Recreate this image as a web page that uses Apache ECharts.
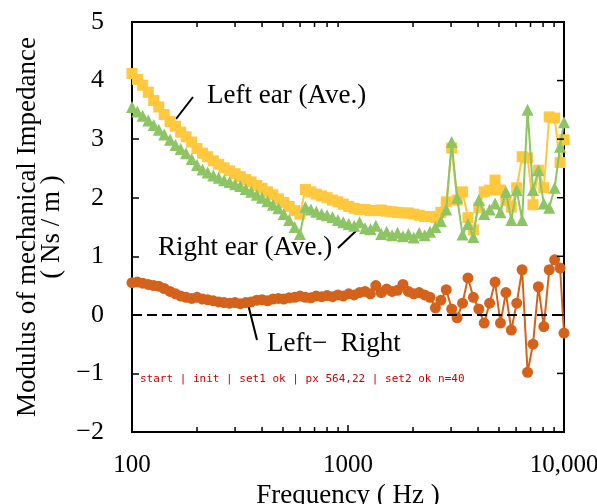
<!DOCTYPE html>
<html>
<head>
<meta charset="utf-8">
<title>Modulus of mechanical impedance</title>
<script src="https://cdn.jsdelivr.net/npm/echarts@6/dist/echarts.min.js"></script>
<style>
  html, body { margin: 0; padding: 0; background: #fff; overflow: hidden; }
  #chart { width: 597px; height: 504px; }
  #dbg { position: absolute; left: 140px; top: 372px; font: 11px monospace; color: #c00; width: 420px; }
</style>
</head>
<body>
<div id="chart"></div>
<div id="dbg">start</div>
<script>
// Frequencies (Hz), about 1/12 octave apart
const freqs = [
  100, 106, 112, 119, 126, 133, 141, 150, 159, 168, 178, 189, 200, 212, 224, 238,
  252, 267, 283, 300, 317, 336, 356, 378, 400, 424, 449, 476, 504, 534, 566, 599,
  635, 673, 713, 755, 800, 848, 898, 951, 1008, 1068, 1131, 1199, 1270, 1345, 1425, 1510,
  1600, 1695, 1796, 1903, 2016, 2136, 2263, 2397, 2540, 2691, 2851, 3020, 3200, 3390,
  3592, 3805, 4032, 4271, 4525, 4795, 5080, 5382, 5702, 6041, 6400, 6781, 7184, 7611,
  8064, 8543, 9051, 9589, 10000
];

// Left ear (Ave.)
const leftEar = [
  4.12, 4.02, 3.92, 3.80, 3.66, 3.55, 3.42, 3.30, 3.22, 3.12, 3.04, 2.95, 2.84, 2.76, 2.70, 2.63,
  2.57, 2.51, 2.46, 2.41, 2.36, 2.31, 2.27, 2.21, 2.16, 2.10, 2.05, 1.98, 1.92, 1.85, 1.78, 1.72,
  2.14, 2.10, 2.06, 2.03, 2.00, 1.96, 1.93, 1.89, 1.85, 1.82, 1.80, 1.80, 1.78, 1.78, 1.79, 1.77,
  1.76, 1.75, 1.74, 1.74, 1.72, 1.70, 1.68, 1.68, 1.66, 1.75, 1.93, 2.85, 1.96, 2.10,
  1.66, 1.45, 1.83, 2.10, 2.13, 2.30, 2.13, 1.95, 1.84, 2.17, 2.70, 2.68, 1.88, 2.47,
  2.17, 3.38, 3.36, 2.60, 2.99
];

// Right ear (Ave.)
const rightEar = [
  3.55, 3.47, 3.40, 3.32, 3.24, 3.16, 3.08, 2.99, 2.90, 2.83, 2.76, 2.66, 2.56, 2.48, 2.43, 2.38,
  2.34, 2.30, 2.27, 2.23, 2.20, 2.15, 2.10, 2.05, 2.00, 1.94, 1.88, 1.82, 1.72, 1.62, 1.50, 1.38,
  1.84, 1.80, 1.76, 1.72, 1.70, 1.67, 1.62, 1.58, 1.55, 1.52, 1.58, 1.48, 1.46, 1.52, 1.38, 1.42,
  1.36, 1.40, 1.34, 1.38, 1.32, 1.40, 1.36, 1.42, 1.50, 1.60, 1.80, 2.95, 2.00, 1.37,
  1.55, 1.33, 1.96, 1.72, 1.80, 1.90, 1.75, 2.10, 1.62, 2.13, 1.62, 3.50, 2.13, 2.47,
  1.90, 1.83, 2.17, 2.87, 3.29
];

// Left - Right
const leftMinusRight = [
  0.55, 0.56, 0.54, 0.52, 0.50, 0.49, 0.45, 0.40, 0.36, 0.32, 0.30, 0.28, 0.30, 0.27, 0.26, 0.24,
  0.22, 0.21, 0.20, 0.21, 0.19, 0.21, 0.22, 0.25, 0.26, 0.24, 0.27, 0.28, 0.27, 0.29, 0.30, 0.32,
  0.30, 0.29, 0.32, 0.31, 0.33, 0.31, 0.34, 0.32, 0.36, 0.34, 0.38, 0.40, 0.36, 0.50, 0.38, 0.44,
  0.40, 0.42, 0.52, 0.40, 0.36, 0.38, 0.34, 0.30, 0.12, 0.25, 0.43, 0.10, -0.05, 0.20,
  0.63, 0.30, 0.10, -0.14, 0.20, 0.56, -0.14, 0.38, -0.26, 0.20, 0.77, -0.98, -0.50, 0.48,
  -0.20, 0.77, 0.94, 0.80, -0.31
];

const minorTicks = [200, 300, 400, 500, 600, 700, 800, 900, 2000, 3000, 4000, 5000, 6000, 7000, 8000, 9000];
const yTicks = [-2, -1, 0, 1, 2, 3, 4, 5];

const xMin = 100, xMax = 10000;
const yMin = -2, yMax = 5;
const serif = 'Liberation Serif, Times New Roman, serif';
const dbg = document.getElementById('dbg');
const log = s => { dbg.textContent += ' | ' + s; };

const chart = echarts.init(document.getElementById('chart'));
log('init');

function pairs(vals) {
  return freqs.map((f, i) => [f, vals[i]]);
}

const axisLine = { show: true, onZero: false, lineStyle: { color: '#000', width: 2 } };
const axisTick = { show: true, inside: true, length: 7, lineStyle: { color: '#000', width: 1.5 } };

const notes = [
  { type: 'text', left: 207, top: 82, style: { text: 'Left ear (Ave.)', font: '27px ' + serif, fill: '#000' } },
  { type: 'line', shape: { x1: 176, y1: 119, x2: 193, y2: 97 }, style: { stroke: '#000', lineWidth: 2 } },
  { type: 'text', left: 158, top: 234, style: { text: 'Right ear (Ave.)', font: '27px ' + serif, fill: '#000' } },
  { type: 'line', shape: { x1: 338, y1: 248, x2: 357, y2: 230 }, style: { stroke: '#000', lineWidth: 2 } },
  { type: 'text', left: 267, top: 330, style: { text: 'Left\u2212  Right', font: '27px ' + serif, fill: '#000' } },
  { type: 'line', shape: { x1: 247, y1: 300, x2: 257, y2: 340 }, style: { stroke: '#000', lineWidth: 2 } }
];

try {
  chart.setOption({
    animation: false,
    grid: {
      left: 132, right: 33, top: 22, bottom: 72, outerBoundsMode: 'none',
      show: true, borderColor: '#000', borderWidth: 2, backgroundColor: 'transparent'
    },
    xAxis: {
      type: 'log', logBase: 10, min: xMin, max: xMax,
      name: 'Frequency ( Hz )', nameLocation: 'middle', nameGap: 48,
      nameTextStyle: { color: '#000', fontFamily: serif, fontSize: 27 },
      axisLine, axisTick,
      splitLine: { show: false },
      axisLabel: {
        color: '#000', fontFamily: serif, fontSize: 25, margin: 21,
        formatter: v => (v >= 10000 ? '10,000' : String(v))
      }
    },
    yAxis: {
      type: 'value', min: yMin, max: yMax, interval: 1,
      name: 'Modulus of mechanical Impedance\n( Ns / m )',
      nameLocation: 'middle', nameGap: 62,
      nameTextStyle: { color: '#000', fontFamily: serif, fontSize: 27, lineHeight: 24 },
      axisLine, axisTick,
      splitLine: { show: false },
      axisLabel: {
        color: '#000', fontFamily: serif, fontSize: 26, margin: 28,
        formatter: v => (v < 0 ? '\u2212' + Math.abs(v) : String(v))
      }
    },
    series: [
      {
        name: 'Left ear (Ave.)', type: 'line', data: pairs(leftEar),
        symbol: 'rect', symbolSize: 11, showAllSymbol: true,
        lineStyle: { color: '#FFC83D', width: 2 }, itemStyle: { color: '#FFC83D' },
        clip: false, z: 2
      },
      {
        name: 'Right ear (Ave.)', type: 'line', data: pairs(rightEar),
        symbol: 'triangle', symbolSize: 12, showAllSymbol: true,
        lineStyle: { color: '#8DC565', width: 2 }, itemStyle: { color: '#8DC565' },
        clip: false, z: 3
      },
      {
        name: 'Left - Right', type: 'line', data: pairs(leftMinusRight),
        symbol: 'circle', symbolSize: 11, showAllSymbol: true,
        lineStyle: { color: '#D4621B', width: 2 }, itemStyle: { color: '#D4621B' },
        clip: false, z: 4,
        markLine: {
          silent: true, symbol: 'none', label: { show: false },
          lineStyle: { color: '#000', type: [10, 5], width: 2 },
          data: [{ yAxis: 0 }]
        }
      }
    ],
    graphic: notes
  });
  log('set1 ok');
} catch (e) {
  log('ERR1 ' + e.message);
}

try {
  const toPx = (x, y) => chart.convertToPixel({ xAxisIndex: 0, yAxisIndex: 0 }, [x, y]);
  log('px ' + toPx(xMax, yMax));
  const tickStyle = { stroke: '#000', lineWidth: 1.5 };
  const ticks = [];
  minorTicks.forEach(f => {
    const b = toPx(f, yMin), t = toPx(f, yMax);
    ticks.push({ type: 'line', z: 10, shape: { x1: b[0], y1: b[1], x2: b[0], y2: b[1] - 5 }, style: tickStyle });
    ticks.push({ type: 'line', z: 10, shape: { x1: t[0], y1: t[1], x2: t[0], y2: t[1] + 5 }, style: tickStyle });
  });
  yTicks.forEach(v => {
    const r = toPx(xMax, v);
    ticks.push({ type: 'line', z: 10, shape: { x1: r[0], y1: r[1], x2: r[0] - 7, y2: r[1] }, style: tickStyle });
  });
  chart.setOption({ graphic: notes.concat(ticks) });
  log('set2 ok n=' + ticks.length);
} catch (e) {
  log('ERR2 ' + e.message);
}
</script>
</body>
</html>
